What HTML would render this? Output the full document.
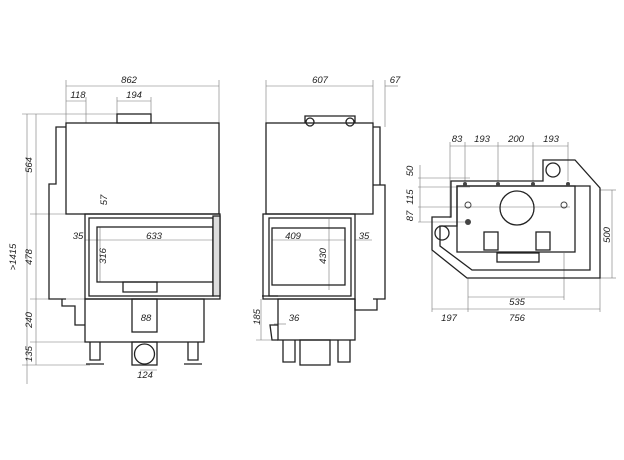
<!DOCTYPE html>
<html><head><style>html,body{margin:0;padding:0;background:#fff}svg{display:block}text{font-family:"Liberation Sans",sans-serif;font-style:italic;font-size:9.5px;fill:#222}</style></head>
<body>
<svg width="624" height="460" viewBox="0 0 624 460" xmlns="http://www.w3.org/2000/svg">
<g stroke="#777" stroke-width="0.6" fill="none">
<line x1="66" y1="86" x2="219" y2="86"/><line x1="66" y1="80" x2="66" y2="123"/><line x1="219" y1="80" x2="219" y2="123"/>
<line x1="66" y1="101" x2="86" y2="101"/><line x1="86" y1="97" x2="86" y2="123"/>
<line x1="117" y1="101" x2="151" y2="101"/><line x1="117" y1="97" x2="117" y2="114"/><line x1="151" y1="97" x2="151" y2="114"/>
<line x1="36" y1="114" x2="36" y2="365"/><line x1="27" y1="114" x2="27" y2="384"/>
<line x1="22" y1="114" x2="117" y2="114"/><line x1="30" y1="214" x2="85" y2="214"/><line x1="30" y1="299" x2="85" y2="299"/><line x1="30" y1="342" x2="90" y2="342"/><line x1="22" y1="365" x2="90" y2="365"/>
<line x1="85" y1="240" x2="213" y2="240"/><line x1="100" y1="227" x2="100" y2="282"/><line x1="140" y1="370" x2="157" y2="370"/>
<line x1="266" y1="86" x2="373" y2="86"/><line x1="266" y1="80" x2="266" y2="123"/><line x1="373" y1="80" x2="373" y2="123"/><line x1="385" y1="80" x2="385" y2="127"/><line x1="385" y1="86" x2="398" y2="86"/>
<line x1="272" y1="240" x2="345" y2="240"/><line x1="355" y1="240" x2="372" y2="240"/><line x1="329" y1="219" x2="329" y2="290"/>
<line x1="261" y1="299" x2="261" y2="340"/><line x1="256" y1="340" x2="278" y2="340"/><line x1="274" y1="324" x2="286" y2="324"/>
<line x1="450" y1="146" x2="568" y2="146"/><line x1="450" y1="142" x2="450" y2="218"/><line x1="465" y1="142" x2="465" y2="181"/><line x1="498" y1="142" x2="498" y2="181"/><line x1="533" y1="142" x2="533" y2="181"/><line x1="568" y1="142" x2="568" y2="181"/>
<line x1="418" y1="178" x2="470" y2="178"/><line x1="418" y1="187" x2="470" y2="187"/><line x1="418" y1="207" x2="570" y2="207"/><line x1="418" y1="222" x2="470" y2="222"/><line x1="420" y1="165" x2="420" y2="222"/>
<line x1="612" y1="190" x2="612" y2="278"/><line x1="600" y1="190" x2="616" y2="190"/><line x1="600" y1="278" x2="616" y2="278"/>
<line x1="468" y1="297" x2="564" y2="297"/><line x1="564" y1="253" x2="564" y2="300"/><line x1="432" y1="309" x2="600" y2="309"/><line x1="432" y1="250" x2="432" y2="312"/><line x1="468" y1="278" x2="468" y2="312"/><line x1="600" y1="278" x2="600" y2="312"/>
</g>
<g stroke="#222" stroke-width="1.3" fill="none">
<rect x="117" y="114" width="34" height="9"/>
<rect x="66" y="123" width="153" height="91"/>
<path d="M66 127 H56 V184 H49 V299 H66"/>
<rect x="85" y="214" width="135" height="85"/>
<rect x="89" y="218" width="124" height="78"/>
<rect x="97" y="227" width="116" height="55"/>
<rect x="213" y="216" width="7" height="80" fill="#ddd"/>
<path d="M123 282 H157 V292 H123Z"/>
<rect x="85" y="299" width="119" height="43"/>
<rect x="132" y="299" width="25" height="33"/>
<path d="M90 342 V360 H100 V342 M188 342 V360 H198 V342"/><path d="M86 364 H104 M184 364 H202"/>
<rect x="132" y="342" width="25" height="23"/><circle cx="144.5" cy="354" r="10"/>
<path d="M62 299 V306 H75 V325 H85"/>
<path d="M305 123 V116 H355 V123"/><circle cx="310" cy="122" r="4"/><circle cx="350" cy="122" r="4"/>
<rect x="266" y="123" width="107" height="91"/>
<path d="M373 127 H380 V185 M373 185 H385 V299 H373"/>
<rect x="263" y="214" width="92" height="85"/>
<rect x="269" y="218" width="82" height="78"/>
<rect x="272" y="228" width="73" height="57"/>
<rect x="278" y="299" width="77" height="41"/>
<path d="M355 299 V310 H377 V299 M283 340 V362 H295 V340 M338 340 V362 H350 V340"/><rect x="300" y="340" width="30" height="25"/>
<path d="M262 296 H278 M278 340 L272 340 L270 325 L278 325"/>
<path d="M451 181 H543 V160 H575 L600 188 V278 H467 L432 250 V217 H451 Z"/>
<path d="M457 186 H590 V270 H472 L440 246 V226 H457 Z"/>
<rect x="457" y="186" width="118" height="66"/>
<circle cx="517" cy="208" r="17"/>
<circle cx="553" cy="170" r="7"/><circle cx="442" cy="233" r="7"/>
<rect x="484" y="232" width="14" height="18"/><rect x="536" y="232" width="14" height="18"/>
<rect x="497" y="253" width="42" height="9"/>
</g>
<g fill="#444">
<circle cx="465" cy="184" r="2"/><circle cx="498" cy="184" r="2"/><circle cx="533" cy="184" r="2"/><circle cx="568" cy="184" r="2"/>
<circle cx="468" cy="222" r="3"/><circle cx="468" cy="205" r="3" fill="none" stroke="#444"/><circle cx="564" cy="205" r="3" fill="none" stroke="#444"/>
</g>
<text x="129" y="83" text-anchor="middle">862</text>
<text x="78" y="98" text-anchor="middle">118</text>
<text x="134" y="98" text-anchor="middle">194</text>
<text x="78" y="239" text-anchor="middle">35</text>
<text x="154" y="239" text-anchor="middle">633</text>
<text x="146" y="321" text-anchor="middle">88</text>
<text x="145" y="378" text-anchor="middle">124</text>
<text transform="translate(32,165) rotate(-90)" text-anchor="middle">564</text>
<text transform="translate(32,257) rotate(-90)" text-anchor="middle">478</text>
<text transform="translate(16,257) rotate(-90)" text-anchor="middle">&gt;1415</text>
<text transform="translate(32,320) rotate(-90)" text-anchor="middle">240</text>
<text transform="translate(32,354) rotate(-90)" text-anchor="middle">135</text>
<text transform="translate(107,200) rotate(-90)" text-anchor="middle">57</text>
<text transform="translate(106,256) rotate(-90)" text-anchor="middle">316</text>
<text x="320" y="83" text-anchor="middle">607</text>
<text x="395" y="83" text-anchor="middle">67</text>
<text x="293" y="239" text-anchor="middle">409</text>
<text x="364" y="239" text-anchor="middle">35</text>
<text x="294" y="321" text-anchor="middle">36</text>
<text transform="translate(326,256) rotate(-90)" text-anchor="middle">430</text>
<text transform="translate(260,317) rotate(-90)" text-anchor="middle">185</text>
<text x="457" y="142" text-anchor="middle">83</text>
<text x="482" y="142" text-anchor="middle">193</text>
<text x="516" y="142" text-anchor="middle">200</text>
<text x="551" y="142" text-anchor="middle">193</text>
<text transform="translate(413,171) rotate(-90)" text-anchor="middle">50</text>
<text transform="translate(413,197) rotate(-90)" text-anchor="middle">115</text>
<text transform="translate(413,216) rotate(-90)" text-anchor="middle">87</text>
<text transform="translate(610,235) rotate(-90)" text-anchor="middle">500</text>
<text x="517" y="305" text-anchor="middle">535</text>
<text x="449" y="321" text-anchor="middle">197</text>
<text x="517" y="321" text-anchor="middle">756</text>
</svg>
</body></html>
